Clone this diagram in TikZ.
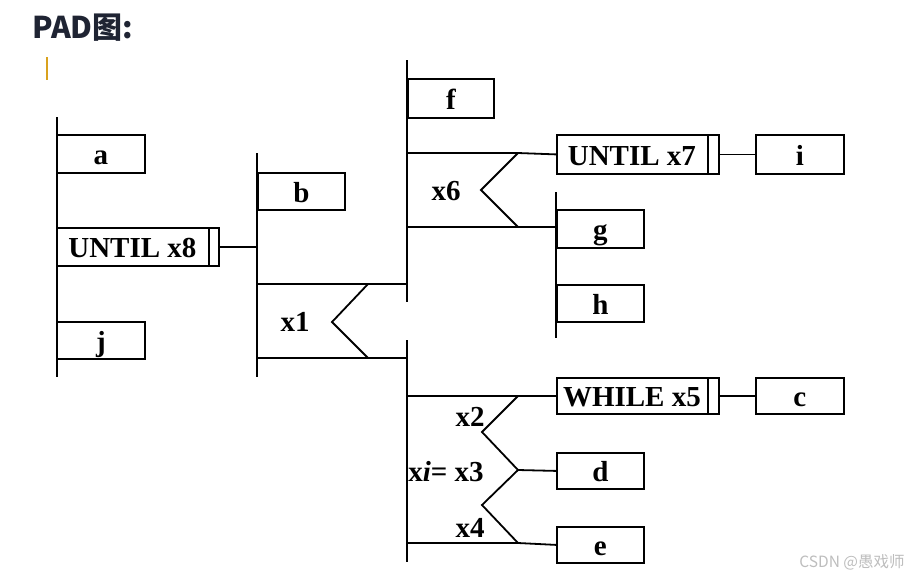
\documentclass[tikz,border=0pt]{standalone}
\usepackage{fontspec}
\setmainfont{Liberation Serif}
\newfontfamily\cjkfont{Noto Sans CJK SC}
\newcommand{\padfont}{\fontsize{29}{31}\selectfont\bfseries}
\definecolor{titleink}{HTML}{1F2433}
\definecolor{cursorgold}{HTML}{D9A21E}
\definecolor{markgray}{HTML}{BDBDBD}
\tikzset{
	padline/.style={line width=1.8pt},
	padbox/.style={draw, padline, anchor=north west, minimum width=87pt, minimum height=38pt, inner sep=0pt,
		text height=24pt, text depth=2pt, font=\padfont},
	loopbox/.style={padbox, minimum width=162pt},
	padlabel/.style={font=\padfont, inner sep=0pt},
}
\begin{document}
\begin{tikzpicture}[x=1pt,y=-1pt]
		\useasboundingbox (0,0) rectangle (923,579);
		%Titel
		\node[anchor=west, inner sep=0pt, text=titleink, font=\cjkfont\fontsize{30}{32}\selectfont\bfseries] (title) at (32,28) {PAD图:};
		\draw[cursorgold, line width=2pt] (46.5,57) -- (46.5,80);
		%Sequenz a, UNTIL x8, j
		\coordinate (s1top) at (57,117);
		\coordinate (s1bot) at (57,377);
		\draw[padline] (s1top) -- (s1bot);
		\node[padbox, minimum width=88pt] (a) at (56,134) {a};
		\node[loopbox] (x8) at (56,227) {UNTIL x8\kern11pt};
		\draw[padline] ([xshift=-11pt]x8.north east) -- ([xshift=-11pt]x8.south east);
		\node[padbox, minimum width=88pt, minimum height=37pt] (j) at (56,321) {j};
		%Sequenz b, x1
		\coordinate (s2top) at (257,153);
		\coordinate (s2bot) at (257,377);
		\draw[padline] (s2top) -- (s2bot);
		\draw[padline] (x8.east) -- (s2top |- x8.east);
		\node[padbox, minimum height=37pt] (b) at (257,172) {b};
		%Auswahl x1
		\coordinate (x1top) at (368,284);
		\coordinate (x1tip) at (332,322);
		\coordinate (x1bot) at (368,358);
		\draw[padline] (257,284) -- (407,284);
		\draw[padline] (257,358) -- (407,358);
		\draw[padline] (x1top) -- (x1tip) -- (x1bot);
		\node[padlabel] (x1) at (295,322) {x1};
		%Sequenz f, x6
		\coordinate (s3top) at (407,60);
		\coordinate (s3bot) at (407,302);
		\draw[padline] (s3top) -- (s3bot);
		\node[padbox, minimum width=86pt, minimum height=39pt] (f) at (407,78) {f};
		\node[loopbox, minimum height=39pt] (x7) at (556,134) {UNTIL x7\kern12pt};
		\draw[padline] ([xshift=-12pt]x7.north east) -- ([xshift=-12pt]x7.south east);
		\node[padbox, minimum width=88pt, minimum height=39pt] (i) at (755,134) {i};
		\draw[padline] (x7.east) -- (i.west);
		%Auswahl x6
		\coordinate (x6top) at (518,153);
		\coordinate (x6tip) at (481,190);
		\coordinate (x6bot) at (518,227);
		\draw[padline] (s3top |- x6top) -- (x6top) -- (x7.west);
		\draw[padline] (s3top |- x6bot) -- (x6bot) -- (556,227);
		\draw[padline] (x6top) -- (x6tip) -- (x6bot);
		\node[padlabel] (x6) at (446,191) {x6};
		%Sequenz g, h
		\coordinate (s4top) at (556,192);
		\coordinate (s4bot) at (556,338);
		\draw[padline] (s4top) -- (s4bot);
		\node[padbox] (g) at (556,209) {g};
		\node[padbox, minimum height=37pt] (h) at (556,284) {h};
		%Auswahl xi
		\coordinate (s5top) at (407,340);
		\coordinate (s5bot) at (407,562);
		\draw[padline] (s5top) -- (s5bot);
		\node[loopbox, minimum height=36pt] (x5) at (556,377) {WHILE x5\kern12pt};
		\draw[padline] ([xshift=-12pt]x5.north east) -- ([xshift=-12pt]x5.south east);
		\node[padbox, minimum width=88pt, minimum height=36pt] (c) at (755,377) {c};
		\draw[padline] (x5.east) -- (c.west);
		\node[padbox, minimum height=36pt] (d) at (556,452) {d};
		\node[padbox, minimum height=36pt] (e) at (556,526) {e};
		\coordinate (xitop) at (518,396);
		\coordinate (xitipa) at (482,432);
		\coordinate (ximid) at (518,470);
		\coordinate (xitipb) at (482,505);
		\coordinate (xibot) at (518,543);
		\draw[padline] (s5top |- xitop) -- (xitop) -- (x5.west);
		\draw[padline] (xitop) -- (xitipa) -- (ximid) -- (xitipb) -- (xibot);
		\draw[padline] (ximid) -- (d.west);
		\draw[padline] (s5top |- xibot) -- (xibot) -- (e.west);
		\node[padlabel] (x2) at (470,417) {x2};
		\node[padlabel] (x3) at (446,472) {x\textit{i}= x3};
		\node[padlabel] (x4) at (470,528) {x4};
		%Wasserzeichen
		\node[text=markgray, inner sep=0pt, font=\cjkfont\fontsize{15.5}{17}\selectfont] (mark) at (852,562) {CSDN @愚戏师};
\end{tikzpicture}
\end{document}
